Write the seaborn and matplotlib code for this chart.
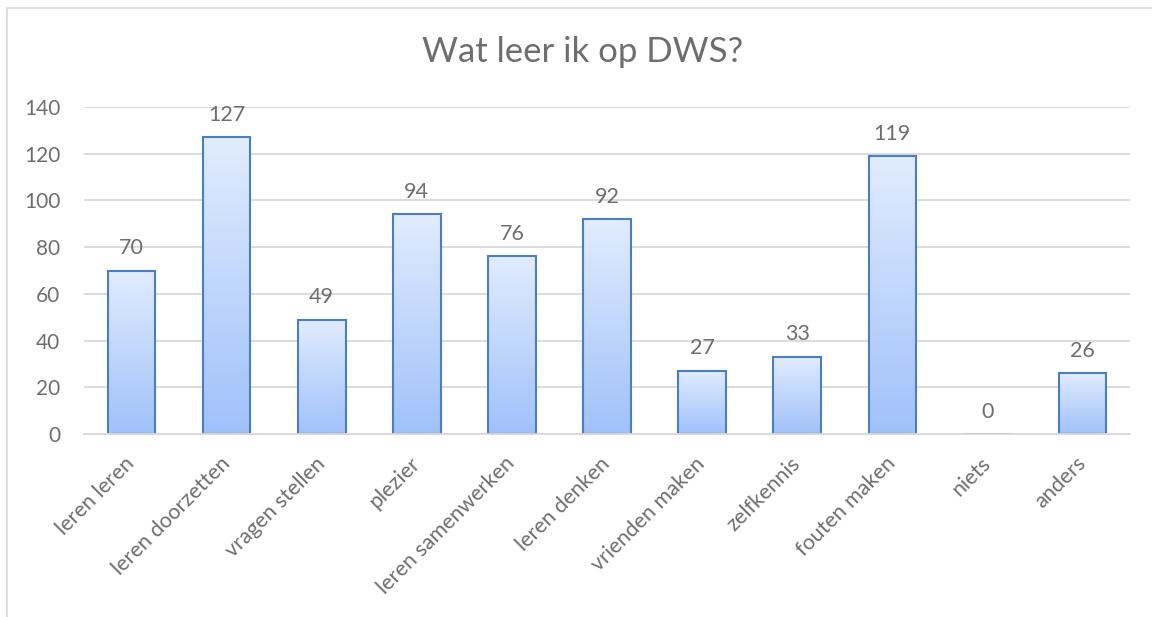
import matplotlib
matplotlib.use("Agg")
import matplotlib.pyplot as plt
import seaborn as sns
import numpy as np
import pandas as pd
from matplotlib.colors import LinearSegmentedColormap
from matplotlib.patches import Rectangle

categories = ["leren leren", "leren doorzetten", "vragen stellen", "plezier",
              "leren samenwerken", "leren denken", "vrienden maken", "zelfkennis",
              "fouten maken", "niets", "anders"]
values = [70, 127, 49, 94, 76, 92, 27, 33, 119, 0, 26]
yticks = [0, 20, 40, 60, 80, 100, 120, 140]
title = "Wat leer ik op DWS?"

sns.set_theme(style="white")
plt.rcParams['font.family'] = ['Lato', 'DejaVu Sans']
txt = "#6e6e6e"

df = pd.DataFrame({"cat": categories, "val": values})

fig = plt.figure(figsize=(11.52, 6.17), dpi=100)
ax = fig.add_axes([84/1152, 1-434/617, (1130-84)/1152, (434-107)/617])

sns.barplot(data=df, x="cat", y="val", ax=ax, width=0.5, color="#c0d6fb",
            edgecolor="#4a7ec2", linewidth=1.5, zorder=3)

cmap = LinearSegmentedColormap.from_list("g", ["#a0c1fa", "#e1ecfe"])
grad = np.linspace(0, 1, 256).reshape(-1, 1)
for p in ax.patches:
    x0, y0 = p.get_x(), p.get_y()
    w, h = p.get_width(), p.get_height()
    if h <= 0:
        continue
    p.set_facecolor("none")
    im = ax.imshow(grad, cmap=cmap, extent=[x0, x0 + w, y0, y0 + h],
                   origin="lower", aspect="auto", zorder=2.5)
    clip = Rectangle((x0, y0), w, h, transform=ax.transData)
    im.set_clip_path(clip)

for i, v in enumerate(values):
    ax.annotate(f"{v}", (i, v), xytext=(0, 9), textcoords="offset points",
                ha="center", va="bottom", fontsize=15.5, color=txt)

ax.set_xlim(-0.5, len(categories) - 0.5)
ax.set_ylim(0, 140)
ax.set_yticks(yticks)
ax.set_yticklabels([str(t) for t in yticks], fontsize=15, color=txt)
ax.yaxis.grid(True, color="#d9d9d9", linewidth=1.3, zorder=0)
ax.set_axisbelow(True)
ax.tick_params(axis="y", length=0, pad=17)
ax.tick_params(axis="x", length=0, pad=19)
ax.set_xticks(range(len(categories)))
ax.set_xticklabels(categories, rotation=45, ha="right", va="center",
                   rotation_mode="anchor", fontsize=15.5, color=txt)
ax.set_xlabel("")
ax.set_ylabel("")
for s in ["top", "right", "left"]:
    ax.spines[s].set_visible(False)
ax.spines["bottom"].set_color("#d9d9d9")
ax.spines["bottom"].set_linewidth(1.3)
ax.spines["bottom"].set_zorder(4)

fig.text(583/1152, 1-52/617, title, ha="center", va="center", fontsize=25, color=txt)

# chart border
border = Rectangle((7/1152, -0.1), 1.2, 1-8/617 + 0.1, transform=fig.transFigure,
                   fill=False, edgecolor="#d9d9d9", linewidth=1.2)
fig.patches.append(border)

fig.savefig("out.png", dpi=100)
